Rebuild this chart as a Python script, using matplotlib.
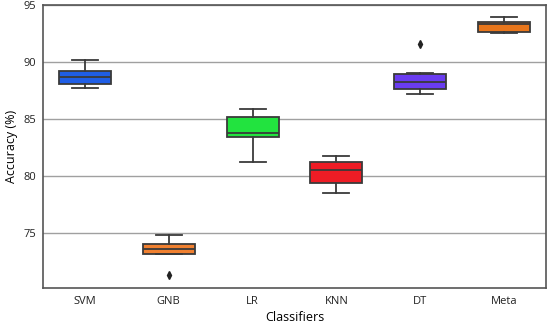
import matplotlib
matplotlib.use("Agg")
import matplotlib.pyplot as plt

classifiers = ["SVM", "GNB", "LR", "KNN", "DT", "Meta"]
whislo = [87.7, 73.15, 81.2, 78.5, 87.16, 92.5]
q1 = [88.07, 73.2, 83.42, 79.36, 87.63, 92.63]
med = [88.66, 73.6, 83.74, 80.5, 88.27, 93.3]
q3 = [89.2, 74.07, 85.2, 81.23, 88.92, 93.48]
whishi = [90.18, 74.8, 85.88, 81.78, 89.04, 93.92]
fliers = [[], [71.3], [], [], [91.6], []]
colors = ["#1f5ee6", "#f08030", "#22e33f", "#ee1c25", "#6a3cf0", "#e8761c"]

plt.rcParams["font.family"] = ["Open Sans", "DejaVu Sans"]

stats = []
for i, name in enumerate(classifiers):
    stats.append({"label": name, "whislo": whislo[i], "q1": q1[i], "med": med[i],
                  "q3": q3[i], "whishi": whishi[i], "fliers": fliers[i]})

fig = plt.figure(figsize=(5.5, 3.28), dpi=100)
ax = fig.add_axes([0.078, 0.122, 0.915, 0.863])

edge = "#3a3a3a"
bp = ax.bxp(stats, positions=range(len(classifiers)), widths=0.62, patch_artist=True,
            boxprops=dict(edgecolor=edge, linewidth=1.3),
            medianprops=dict(color=edge, linewidth=1.3),
            whiskerprops=dict(color=edge, linewidth=1.3),
            capprops=dict(color=edge, linewidth=1.3),
            flierprops=dict(marker="d", markerfacecolor="#222222", markeredgecolor="#222222",
                            markersize=4))
for patch, c in zip(bp["boxes"], colors):
    patch.set_facecolor(c)

ax.set_xlim(-0.5, len(classifiers) - 0.5)
ax.set_ylim(70.2, 95)
ax.set_yticks([75, 80, 85, 90, 95])
ax.yaxis.grid(True, color="#a0a0a0", linewidth=1.0)
ax.set_axisbelow(True)
ax.tick_params(length=0, labelsize=8, colors="#222222", pad=5)
ax.tick_params(axis="x", pad=6)
for s in ax.spines.values():
    s.set_color("#555555")
    s.set_linewidth(1.2)

ax.set_xlabel("Classifiers", fontsize=9, labelpad=3)
ax.set_ylabel("Accuracy (%)", fontsize=9)

fig.savefig("out.png", dpi=100)
